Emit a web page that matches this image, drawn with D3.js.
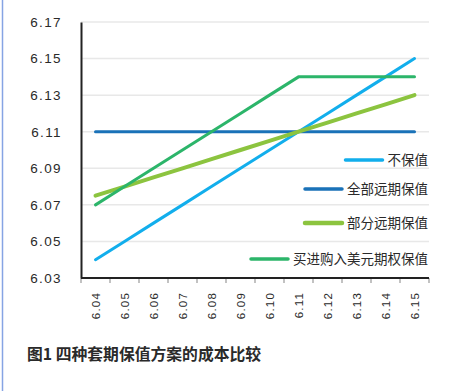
<!DOCTYPE html>
<html>
<head>
<meta charset="utf-8">
<script src="https://cdn.jsdelivr.net/npm/d3@7"></script>
<style>
  body { margin: 0; background: #fff; }
  svg { display: block; }
</style>
</head>
<body>
<svg width="449" height="391"></svg>
<script>
// x categories (spot rate scenarios)
const categories = ['6.04', '6.05', '6.06', '6.07', '6.08', '6.09', '6.10', '6.11', '6.12', '6.13', '6.14', '6.15'];
const yTicks = [6.03, 6.05, 6.07, 6.09, 6.11, 6.13, 6.15, 6.17];

const noHedge = [6.04, 6.05, 6.06, 6.07, 6.08, 6.09, 6.10, 6.11, 6.12, 6.13, 6.14, 6.15];
const fullForward = [6.11, 6.11, 6.11, 6.11, 6.11, 6.11, 6.11, 6.11, 6.11, 6.11, 6.11, 6.11];
const partForward = [6.075, 6.08, 6.085, 6.09, 6.095, 6.10, 6.105, 6.11, 6.115, 6.12, 6.125, 6.13];
const buyOption = [6.07, 6.08, 6.09, 6.10, 6.11, 6.12, 6.13, 6.14, 6.14, 6.14, 6.14, 6.14];

const seriesNames = ['不保值', '全部远期保值', '部分远期保值', '买进购入美元期权保值'];
const seriesColors = ['#12aeec', '#1a72b8', '#8cc43f', '#2cb56a'];

const series = [
  { name: seriesNames[0], color: seriesColors[0], values: noHedge, w: 3 },
  { name: seriesNames[1], color: seriesColors[1], values: fullForward, w: 3 },
  { name: seriesNames[2], color: seriesColors[2], values: partForward, w: 4 },
  { name: seriesNames[3], color: seriesColors[3], values: buyOption, w: 3 }
];

const svg = d3.select('svg');
const margin = { top: 22, right: 20, bottom: 113, left: 81 };
const width = 449 - margin.left - margin.right;
const height = 391 - margin.top - margin.bottom;

// left page border
svg.append('line')
  .attr('x1', 2.5).attr('x2', 2.5).attr('y1', 0).attr('y2', 391)
  .attr('stroke', '#86a4e4').attr('stroke-width', 1.5);

const g = svg.append('g').attr('transform', `translate(${margin.left},${margin.top})`);

const x = d3.scaleBand().domain(categories).range([0, width]);
const y = d3.scaleLinear().domain([6.03, 6.17]).range([height, 0]);

// grid
g.append('g')
  .selectAll('line')
  .data(yTicks)
  .enter()
  .append('line')
  .attr('x1', 0).attr('x2', width)
  .attr('y1', d => y(d)).attr('y2', d => y(d))
  .attr('stroke', '#e8e8e8').attr('stroke-width', 1.5);

// y axis
const yAxis = g.append('g')
  .call(d3.axisLeft(y).tickValues(yTicks).tickFormat(d3.format('.2f')).tickSize(0).tickPadding(19));
yAxis.select('.domain').attr('stroke', '#222').attr('stroke-width', 2);
yAxis.selectAll('text')
  .style('font-family', '"Liberation Sans", Arial, sans-serif')
  .style('font-size', '13.5px')
  .style('letter-spacing', '1.4px')
  .attr('fill', '#2a2a2a');

// x axis
const xAxis = g.append('g')
  .attr('transform', `translate(0,${height})`)
  .call(d3.axisBottom(x).tickSize(5).tickSizeOuter(0).tickPadding(0));
xAxis.select('.domain').remove();
xAxis.selectAll('.tick line').remove();
// band boundary ticks
xAxis.selectAll('.bound')
  .data(d3.range(categories.length + 1))
  .enter()
  .append('line')
  .attr('x1', i => i * x.step()).attr('x2', i => i * x.step())
  .attr('y1', 0).attr('y2', 5)
  .attr('stroke', '#999').attr('stroke-width', 1.2);
xAxis.append('line')
  .attr('x1', 0).attr('x2', width)
  .attr('stroke', '#222').attr('stroke-width', 2);
xAxis.selectAll('.tick text')
  .attr('transform', 'rotate(-90)')
  .attr('x', -14)
  .attr('y', 0)
  .attr('dy', '0.35em')
  .style('text-anchor', 'end')
  .style('font-family', '"Liberation Sans", Arial, sans-serif')
  .style('font-size', '11.5px')
  .style('letter-spacing', '1.2px')
  .attr('fill', '#2a2a2a');

// lines
const line = d3.line()
  .x((d, i) => x(categories[i]) + x.bandwidth() / 2)
  .y(d => y(d));

const drawOrder = [1, 0, 2, 3];
drawOrder.forEach(k => {
  const s = series[k];
  g.append('path')
    .datum(s.values)
    .attr('d', line)
    .attr('fill', 'none')
    .attr('stroke', s.color)
    .attr('stroke-width', s.w)
    .attr('stroke-linecap', 'round')
    .attr('stroke-linejoin', 'round');
});

// legend (rows placed in the lower right of the plot)
const legendRows = [138, 167, 201, 237];
const legendRight = 428 - margin.left;
const lg = g.append('g');
series.forEach((s, i) => {
  const row = lg.append('g').attr('transform', `translate(0,${legendRows[i]})`);
  const t = row.append('text')
    .attr('x', legendRight)
    .attr('dy', '0.35em')
    .attr('text-anchor', 'end')
    .style('font-family', '"Noto Sans CJK SC", sans-serif')
    .style('font-size', '13.5px')
    .attr('fill', '#2a2a2a')
    .text(s.name);
  const tw = t.node().getComputedTextLength();
  row.append('line')
    .attr('x1', legendRight - tw - 5 - 37).attr('x2', legendRight - tw - 5)
    .attr('stroke', s.color).attr('stroke-width', s.w + 0.5)
    .attr('stroke-linecap', 'round');
});

// caption
svg.append('text')
  .attr('x', 27)
  .attr('y', 360)
  .style('font-family', '"Noto Sans CJK SC", sans-serif')
  .style('font-size', '15.8px')
  .style('font-weight', 'bold')
  .attr('fill', '#2a2a2a')
  .text('图1 四种套期保值方案的成本比较');
</script>
</body>
</html>
